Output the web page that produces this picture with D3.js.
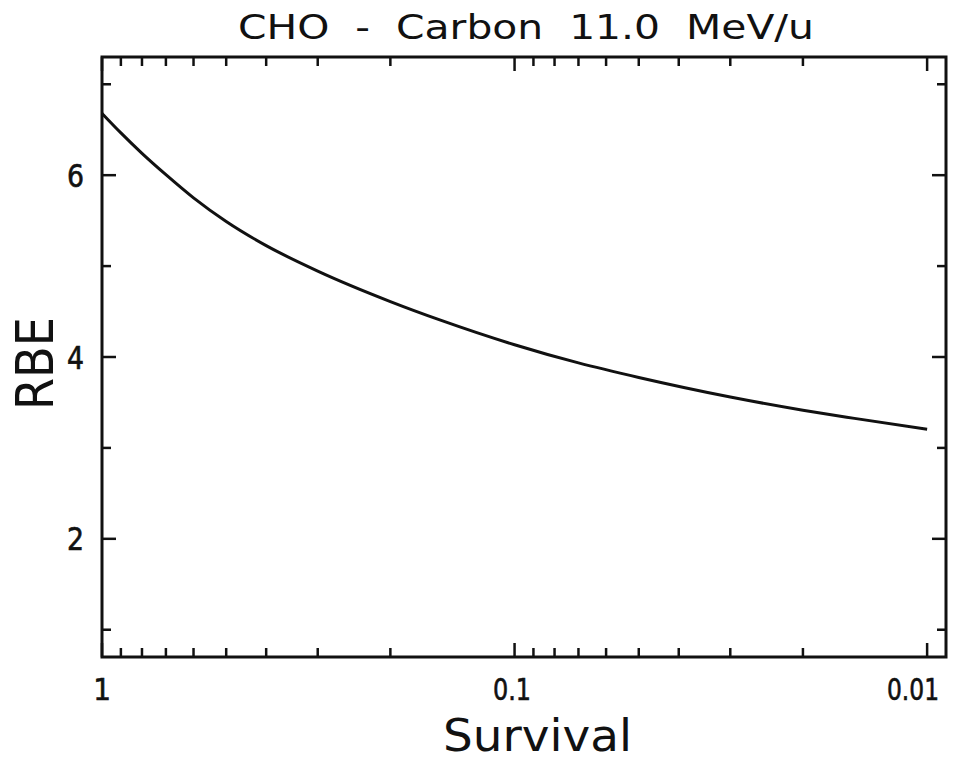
<!DOCTYPE html>
<html><head><meta charset="utf-8">
<script src="https://cdn.jsdelivr.net/npm/d3@7"></script>
<style>body{margin:0;background:#fff}</style>
</head><body><svg id="c" width="958" height="763"></svg>
<script>
// ---- data ----
const survival = [1, 0.9, 0.8, 0.7, 0.6, 0.5, 0.4, 0.3, 0.2, 0.15, 0.1, 0.07, 0.05, 0.03, 0.02, 0.015, 0.01];
const rbe      = [6.68, 6.465, 6.24, 6.005, 5.75, 5.49, 5.225, 4.945, 4.61, 4.40, 4.135, 3.935, 3.775, 3.56, 3.415, 3.325, 3.205];
const xMajorTicks = [1, 0.1, 0.01];
const xTickLabels = ["1", "0.1", "0.01"];
const xMinorTicks = [0.9, 0.8, 0.7, 0.6, 0.5, 0.4, 0.3, 0.2, 0.09, 0.08, 0.07, 0.06, 0.05, 0.04, 0.03, 0.02];
const yMajorTicks = [2, 4, 6];
const yTickLabels = ["2", "4", "6"];
const yMinorTicks = [1, 3, 5, 7];
const titleText = "CHO  -  Carbon  11.0  MeV/u";
const xLabel = "Survival";
const yLabel = "RBE";

// ---- layout ----
const L = 102, R = 946, T = 57, B = 657;
const svg = d3.select("#c");
const x = d3.scaleLog().domain([1, 0.009]).range([L, R]);
const y = d3.scaleLinear().domain([0.7, 7.3]).range([B, T]);
const font = "'DejaVu Sans', 'Liberation Sans', sans-serif";
const narrow = "'Liberation Sans Narrow', 'DejaVu Sans Condensed', 'DejaVu Sans', sans-serif";

svg.append("rect").attr("width", 958).attr("height", 763).attr("fill", "#fff");

// ticks (inward, mirrored on all four sides)
const g = svg.append("g").attr("stroke", "#111").attr("stroke-width", 2.5);
function xTicks(vals, len) {
  vals.forEach(v => {
    const px = x(v);
    g.append("line").attr("x1", px).attr("x2", px).attr("y1", B).attr("y2", B - len);
    g.append("line").attr("x1", px).attr("x2", px).attr("y1", T).attr("y2", T + len);
  });
}
function yTicks(vals, len) {
  vals.forEach(v => {
    const py = y(v);
    g.append("line").attr("x1", L).attr("x2", L + len).attr("y1", py).attr("y2", py);
    g.append("line").attr("x1", R).attr("x2", R - len).attr("y1", py).attr("y2", py);
  });
}
xTicks(xMajorTicks, 14);
xTicks(xMinorTicks, 9);
yTicks(yMajorTicks, 14);
yTicks(yMinorTicks, 9);

// frame
svg.append("rect").attr("x", L).attr("y", T).attr("width", R - L).attr("height", B - T)
  .attr("fill", "none").attr("stroke", "#111").attr("stroke-width", 3);

// curve
const pts = survival.map((s, i) => [s, rbe[i]]);
svg.append("path").datum(pts)
  .attr("d", d3.line().x(d => x(d[0])).y(d => y(d[1])).curve(d3.curveMonotoneX))
  .attr("fill", "none").attr("stroke", "#111").attr("stroke-width", 3);

// tick labels
const xLabPos = [102, 512, 913];
const xLabW = [null, 38, 52];
xMajorTicks.forEach((v, i) => {
  const t = svg.append("text").attr("x", xLabPos[i]).attr("y", 700).attr("text-anchor", "middle")
    .attr("font-family", narrow).attr("font-size", 31).attr("fill", "#111")
    .attr("stroke", "#111").attr("stroke-width", 0.6).text(xTickLabels[i]);
  if (xLabW[i]) t.attr("textLength", xLabW[i]).attr("lengthAdjust", "spacingAndGlyphs");
});
yMajorTicks.forEach((v, i) => {
  svg.append("text").attr("x", 84).attr("y", y(v) + 11.5).attr("text-anchor", "end")
    .attr("font-family", narrow).attr("font-size", 32).attr("fill", "#111")
    .attr("stroke", "#111").attr("stroke-width", 0.6)
    .attr("textLength", 17).attr("lengthAdjust", "spacingAndGlyphs").text(yTickLabels[i]);
});

// title
svg.append("text").attr("x", 238).attr("y", 39).attr("font-family", font).attr("font-size", 34)
  .attr("fill", "#111").attr("textLength", 576).attr("lengthAdjust", "spacingAndGlyphs")
  .attr("style", "white-space:pre").text(titleText);

// axis labels
svg.append("text").attr("x", 443).attr("y", 751).attr("font-family", font).attr("font-size", 45)
  .attr("fill", "#111").attr("textLength", 189).attr("lengthAdjust", "spacingAndGlyphs").text(xLabel);
svg.append("text").attr("transform", "translate(53,410) rotate(-90)").attr("x", 0).attr("y", 0)
  .attr("font-family", font).attr("font-size", 52).attr("fill", "#111")
  .attr("textLength", 93).attr("lengthAdjust", "spacingAndGlyphs").text(yLabel);
</script></body></html>
